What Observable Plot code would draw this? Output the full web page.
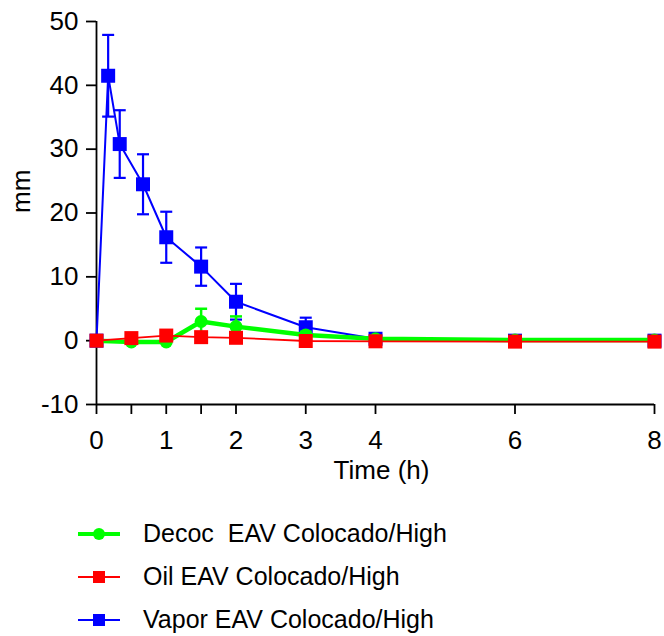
<!DOCTYPE html>
<html><head><meta charset="utf-8">
<script src="https://cdn.jsdelivr.net/npm/d3@7"></script>
<script src="https://cdn.jsdelivr.net/npm/@observablehq/plot@0.6"></script>
<style>
body{margin:0;background:#fff;font-family:"Liberation Sans",Arial,sans-serif;color:#000;}
#legend{margin-top:17px;}
.row{display:flex;align-items:center;height:43px;padding-left:78px;}
.row svg{display:block;margin-right:23px;}
.row span{font-size:25px;white-space:pre;}
</style></head><body><div id="chart"></div><div id="legend"></div>
<script>
const seriesNames = ["Decoc  EAV Colocado/High", "Oil EAV Colocado/High", "Vapor EAV Colocado/High"];
const seriesColors = ["#00ff00", "#ff0000", "#0000ff"];
const xTicks = [0, 0.5, 1, 1.5, 2, 3, 4, 6, 8];
const yTicks = [-10, 0, 10, 20, 30, 40, 50];

const decocTime = [0, 0.5, 1, 1.5, 2, 3, 4, 6, 8];
const decocMean = [0, -0.2, -0.2, 3.0, 2.2, 0.9, 0.3, 0.1, 0.1];
const decocErr  = [0, 0, 0, 2.0, 1.6, 0.5, 0, 0, 0];

const oilTime = [0, 0.5, 1, 1.5, 2, 3, 4, 6, 8];
const oilMean = [0, 0.4, 0.8, 0.55, 0.45, -0.05, -0.1, -0.15, -0.15];
const oilErr  = [0, 0, 0, 0, 0, 0, 0, 0, 0];

const vaporTime = [0, 0.167, 0.333, 0.667, 1, 1.5, 2, 3, 4, 6, 8];
const vaporMean = [0, 41.5, 30.8, 24.5, 16.2, 11.6, 6.1, 2.1, 0.3, 0, 0];
const vaporErr  = [0, 6.4, 5.3, 4.7, 4.0, 3.0, 2.8, 1.5, 0, 0, 0];

const mk = (ts, ms, es) => ts.map((t, i) => ({t, m: ms[i], e: es[i]}));
const decoc = mk(decocTime, decocMean, decocErr);
const oil = mk(oilTime, oilMean, oilErr);
const vapor = mk(vaporTime, vaporMean, vaporErr);

const capSymbol = {draw(ctx, size) { const w = Math.sqrt(size / Math.PI); ctx.moveTo(-w, 0); ctx.lineTo(w, 0); }};

function seriesMarks(data, color, lineW, symbol, r, errW) {
  const withErr = data.filter(d => d.e > 0);
  const caps = withErr.flatMap(d => [{t: d.t, v: d.m + d.e}, {t: d.t, v: d.m - d.e}]);
  return [
    Plot.line(data, {x: "t", y: "m", stroke: color, strokeWidth: lineW}),
    Plot.ruleX(withErr, {x: "t", y1: d => d.m - d.e, y2: d => d.m + d.e, stroke: color, strokeWidth: errW}),
    Plot.dot(caps, {x: "t", y: "v", symbol: capSymbol, r: 6, stroke: color, strokeWidth: errW}),
    Plot.dot(data, {x: "t", y: "m", symbol, r, fill: color, stroke: "none"})
  ];
}

const plot = Plot.plot({
  width: 664, height: 495,
  marginLeft: 96, marginRight: 10, marginTop: 21, marginBottom: 91,
  style: {fontFamily: "'Liberation Sans', Arial, sans-serif", fontSize: "26px", color: "#000", background: "#fff"},
  x: {type: "linear", domain: [0, 4, 8], label: null},
  y: {type: "linear", domain: [-10, 50], label: null},
  marks: [
    Plot.axisX({ticks: xTicks, tickFormat: d => Number.isInteger(d) ? String(d) : "", tickSize: 10, tickPadding: 16, fontSize: 26, strokeWidth: 1.8, label: null}),
    Plot.axisY({ticks: yTicks, tickFormat: d => String(d), tickSize: 10, tickPadding: 8, fontSize: 26, strokeWidth: 1.8, label: null}),
    Plot.ruleX([0], {strokeWidth: 1.8}),
    Plot.ruleY([-10], {strokeWidth: 1.8}),
    Plot.text(["Time (h)"], {text: d => d, frameAnchor: "bottom", lineAnchor: "top", dy: 56, dx: 6, fontSize: 26}),
    Plot.text(["mm"], {text: d => d, frameAnchor: "left", rotate: -90, dx: -75, fontSize: 26}),
    ...seriesMarks(vapor, seriesColors[2], 2, "square", 7.9, 2.2),
    ...seriesMarks(decoc, seriesColors[0], 4.5, "circle", 6.5, 2.5),
    ...seriesMarks(oil, seriesColors[1], 1.8, "square", 7.9, 2)
  ]
});
document.getElementById("chart").appendChild(plot);

const legend = document.getElementById("legend");
const legendSymbols = ["circle", "square", "square"];
const legendLineW = [4, 2, 2];
seriesNames.forEach((name, i) => {
  const row = document.createElement("div");
  row.className = "row";
  const c = seriesColors[i];
  const sym = legendSymbols[i] === "circle"
    ? `<circle cx="21" cy="11" r="6" fill="${c}"/>`
    : `<rect x="15" y="5" width="12" height="12" fill="${c}"/>`;
  row.innerHTML = `<svg width="42" height="22"><line x1="0" x2="42" y1="11" y2="11" stroke="${c}" stroke-width="${legendLineW[i]}"/>${sym}</svg><span>${name}</span>`;
  legend.appendChild(row);
});
</script></body></html>
